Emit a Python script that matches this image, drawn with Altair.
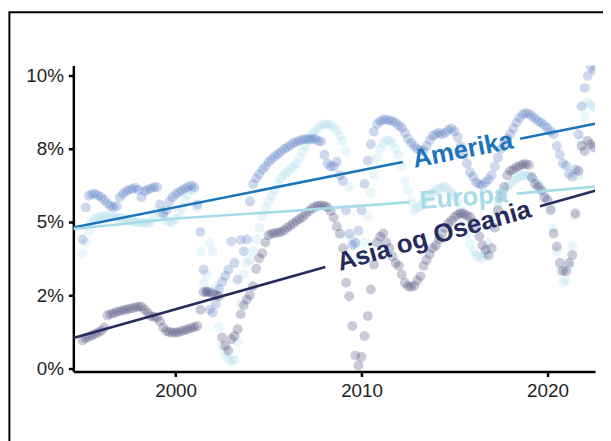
import altair as alt
import pandas as pd

# ---------------- data (every second month, first point = Jan 1995) ----------------
START = 1995.0
STEP = 1 / 6

AMERIKA = [
    4.4, 5.5, 5.9, 5.95, 5.97, 5.9,
    5.85, 5.75, 5.63, 5.55, 5.5, 5.55,
    5.85, 5.97, 6.05, 6.1, 6.14, 6.17,
    6.1, 5.85, 6.05, 6.1, 6.15, 6.19,
    6.19, 5.6, 5.3, 5.4, 5.7, 5.85,
    5.95, 6.02, 6.08, 6.15, 6.2, 6.25,
    6.19, 5.6, 4.66, 3.37, 2.6, 2.0,
    1.9, 2.2, 2.7, 2.95, 3.15, 3.37,
    4.33, 3.6, 3.03, 4.38, 4.0, 4.4,
    5.7, 6.3, 6.5, 6.64, 6.8, 6.9,
    7.05, 7.15, 7.25, 7.32, 7.4, 7.5,
    7.55, 7.62, 7.7, 7.74, 7.78, 7.82,
    7.83, 7.85, 7.83, 7.85, 7.77, 7.75,
    7.3, 7.0, 6.9, 6.9, 7.05, 6.6,
    6.4, 5.4, 4.6, 4.21, 4.3, 4.7,
    5.4, 6.3, 7.1, 7.66, 8.1, 8.35,
    8.45, 8.5, 8.5, 8.48, 8.45, 8.4,
    8.3, 8.22, 8.05, 7.85, 7.7, 7.6,
    7.5, 7.45, 7.45, 7.6, 7.8, 7.95,
    8.0, 8.05, 8.0, 8.05, 8.15, 8.2,
    8.1, 7.9, 7.6, 7.3, 7.0, 6.7,
    6.55, 6.36, 6.3, 6.25, 6.36, 6.45,
    6.6, 6.9, 7.2, 7.5, 7.66, 7.85,
    8.0, 8.2, 8.4, 8.56, 8.68, 8.73,
    8.7, 8.62, 8.55, 8.45, 8.4, 8.3,
    8.22, 8.1, 8.0, 7.6, 7.3, 7.0,
    6.93, 6.64, 6.55, 6.8, 8.0, 8.96,
    9.58, 10.0, 10.3, 10.2,
]

EUROPA = [
    3.93, 4.3, 4.7, 5.0, 5.1, 5.15,
    5.17, 5.2, 5.2, 5.2, 5.18, 5.15,
    5.15, 5.12, 5.1, 5.06, 5.03, 5.0,
    5.0, 4.98, 4.97, 4.95, 5.0, 5.15,
    5.4, 5.3, 5.2, 5.06, 5.0, 4.95,
    5.1, 5.3, 5.5, 5.75, 5.95, 6.1,
    6.1, 5.5, 4.0, 2.9, 3.2, 4.27,
    4.0, 2.8, 1.4, 0.77, 0.5, 0.32,
    0.25, 0.3, 0.9, 2.2, 3.2, 3.6,
    3.7, 4.0, 4.4, 4.8, 5.2, 5.5,
    5.7, 5.9, 6.1, 6.3, 6.5, 6.6,
    6.7, 6.8, 6.9, 7.0, 7.2, 7.4,
    7.6, 7.8, 8.0, 8.1, 8.2, 8.3,
    8.34, 8.35, 8.32, 8.25, 8.15, 7.95,
    7.77, 7.43, 6.2, 4.44, 4.2, 3.8,
    3.75, 4.3, 5.2, 6.0, 6.6, 7.2,
    7.5, 7.7, 7.8, 7.78, 7.7, 7.5,
    7.3, 6.9, 6.4, 6.08, 5.7, 5.4,
    5.5, 5.55, 5.7, 5.8, 5.9, 6.0,
    6.1, 6.15, 6.2, 6.2, 6.1, 6.0,
    5.9, 5.7, 5.4, 5.0, 4.6, 4.25,
    4.0, 3.85, 3.8, 3.76, 3.9, 4.3,
    4.9, 5.2, 5.55, 5.85, 6.05, 6.2,
    6.3, 6.4, 6.5, 6.55, 6.6, 6.6,
    6.6, 6.5, 6.4, 6.3, 6.2, 6.0,
    5.8, 5.5, 4.8, 4.0, 3.3, 2.92,
    3.0, 3.5, 4.16, 5.2, 6.6, 7.8,
    8.6, 9.1, 9.0, 8.9,
]

ASIA = [
    0.95, 1.03, 1.07, 1.12, 1.17, 1.22,
    1.28, 1.39, 1.8, 1.85, 1.88, 1.92,
    1.95, 1.98, 2.0, 2.03, 2.05, 2.08,
    2.1, 2.1, 2.0, 1.9, 1.78, 1.76,
    1.73, 1.6, 1.39, 1.27, 1.23, 1.22,
    1.22, 1.23, 1.27, 1.3, 1.33, 1.37,
    1.4, 1.44, 2.0, 2.6, 2.62, 2.6,
    2.55, 2.5, 2.46, 1.05, 0.77, 0.6,
    0.99, 1.1, 1.33, 1.84, 2.15, 2.35,
    2.5, 2.8, 3.4, 3.76, 3.93, 4.3,
    4.55, 4.6, 4.62, 4.64, 4.66, 4.72,
    4.8, 4.87, 4.95, 5.03, 5.1, 5.17,
    5.27, 5.37, 5.46, 5.52, 5.56, 5.57,
    5.55, 5.51, 5.38, 5.15, 4.85, 4.6,
    4.1, 2.92, 2.46, 1.44, 0.43, 0.09,
    0.38, 1.1, 1.78, 2.69, 3.54, 4.3,
    4.5, 4.61, 4.3, 4.1, 3.82, 3.6,
    3.5, 3.2, 2.92, 2.8, 2.78, 2.82,
    3.0, 3.14, 3.5, 3.7, 3.9, 4.1,
    4.2, 4.4, 4.6, 4.8, 4.95, 5.05,
    5.17, 5.25, 5.3, 5.28, 5.22, 5.17,
    5.0, 4.8, 4.5, 4.2, 4.04, 3.85,
    4.1, 4.8, 5.4, 5.9, 6.2, 6.6,
    6.75, 6.8, 6.87, 6.92, 6.97, 6.98,
    6.95, 6.53, 6.3, 6.2, 6.08, 5.85,
    5.74, 5.4, 4.61, 4.16, 3.6, 3.33,
    3.31, 3.6, 3.87, 5.29, 6.75, 7.6,
    7.43, 7.77, 7.66, 7.55,
]

SERIES = ["Amerika", "Europa", "Asia og Oseania"]
POINT_COLORS = ["#4a72c2", "#8fd3e8", "#3b3a6e"]
POINT_OPACITY = [0.27, 0.2, 0.27]
LINE_COLORS = ["#1b75bb", "#a6dbe8", "#252b5e"]

# trend lines (two pieces each, gap where the label sits)
TREND_T = {
    "Amerika": [1994.5, 2012.22, 2018.53, 2022.56],
    "Europa": [1994.5, 2000.0, 2006.3, 2012.58, 2018.35, 2022.56],
    "Asia og Oseania": [1994.5, 2008.05, 2019.6, 2022.56],
}
TREND_V = {
    "Amerika": [4.81, 7.05, 7.85, 8.36],
    "Europa": [4.76, 5.12, 5.38, 5.68, 5.97, 6.21],
    "Asia og Oseania": [1.03, 3.46, 5.54, 6.07],
}
TREND_SEG = {
    "Amerika": [0, 0, 1, 1],
    "Europa": [0, 0, 0, 0, 1, 1],
    "Asia og Oseania": [0, 0, 1, 1],
}

LABEL_T = [2015.45, 2015.5, 2013.9]
LABEL_V = [7.456, 5.83, 4.515]
LABEL_ANGLE = [348.8, 355.5, 344.2]

X_DOMAIN = [1994.5, 2022.56]
Y_DOMAIN = [-0.115, 10.35]
X_TICKS = [2000, 2010, 2020]
Y_TICKS = [0, 2.5, 5, 7.5, 10]
Y_TICK_LABELS = ["0%", "2%", "5%", "8%", "10%"]

# ---------------- build tables ----------------
rows = []
for name, vals in zip(SERIES, [AMERIKA, EUROPA, ASIA]):
    for i, v in enumerate(vals):
        rows.append({"t": START + i * STEP, "v": v, "region": name})
points_df = pd.DataFrame(rows)

trow = []
for name in SERIES:
    for t, v, s in zip(TREND_T[name], TREND_V[name], TREND_SEG[name]):
        trow.append({"t": t, "v": v, "region": name, "seg": f"{name}-{s}"})
trend_df = pd.DataFrame(trow)

label_expr = ""
for val, lab in zip(Y_TICKS, Y_TICK_LABELS):
    label_expr += f"datum.value == {val} ? '{lab}' : "
label_expr += "''"

x_enc = alt.X(
    "t:Q",
    scale=alt.Scale(domain=X_DOMAIN, nice=False, zero=False),
    axis=alt.Axis(values=X_TICKS, format="d", title=None, grid=False),
)
y_enc = alt.Y(
    "v:Q",
    scale=alt.Scale(domain=Y_DOMAIN, nice=False, zero=False),
    axis=alt.Axis(values=Y_TICKS, labelExpr=label_expr, title=None, grid=False),
)

frame = alt.Chart(pd.DataFrame({"k": [0]})).mark_rect(
    filled=False, stroke="black", strokeWidth=2
).encode(
    x=alt.value(-64.6), x2=alt.value(700), y=alt.value(-54), y2=alt.value(500)
)

layers = [frame]
order = [1, 0, 2]  # Europa first, then Amerika, then Asia on top
for idx in order:
    name = SERIES[idx]
    layers.append(
        alt.Chart(points_df[points_df.region == name])
        .mark_circle(size=100, opacity=POINT_OPACITY[idx], color=POINT_COLORS[idx], clip=True)
        .encode(x=x_enc, y=y_enc)
    )

for idx, name in enumerate(SERIES):
    layers.append(
        alt.Chart(trend_df[trend_df.region == name])
        .mark_line(strokeWidth=2.6, color=LINE_COLORS[idx], clip=True)
        .encode(x=x_enc, y=y_enc, detail="seg:N", order="t:Q")
    )

for idx, name in enumerate(SERIES):
    ldf = pd.DataFrame({"t": [LABEL_T[idx]], "v": [LABEL_V[idx]], "label": [name]})
    layers.append(
        alt.Chart(ldf)
        .mark_text(
            font="Liberation Sans",
            fontWeight="bold",
            fontSize=26,
            color=LINE_COLORS[idx],
            angle=LABEL_ANGLE[idx],
            align="center",
            baseline="middle",
        )
        .encode(x=x_enc, y=y_enc, text="label:N")
    )

chart = (
    alt.layer(*layers)
    .properties(
        width=527,
        height=309,
        autosize=alt.AutoSizeParams(type="none"),
        padding={"left": 66, "top": 56, "right": 8, "bottom": 68},
        background="white",
    )
    .configure_view(stroke=None)
    .configure_axis(
        domainColor="black",
        domainWidth=2.5,
        tickColor="black",
        tickWidth=2.5,
        tickSize=5,
        labelFont="Liberation Sans",
        labelFontSize=19,
        labelColor="#222222",
        labelPadding=5,
    )
)

chart.save("out.html", embed_options={"renderer": "svg", "actions": False})
